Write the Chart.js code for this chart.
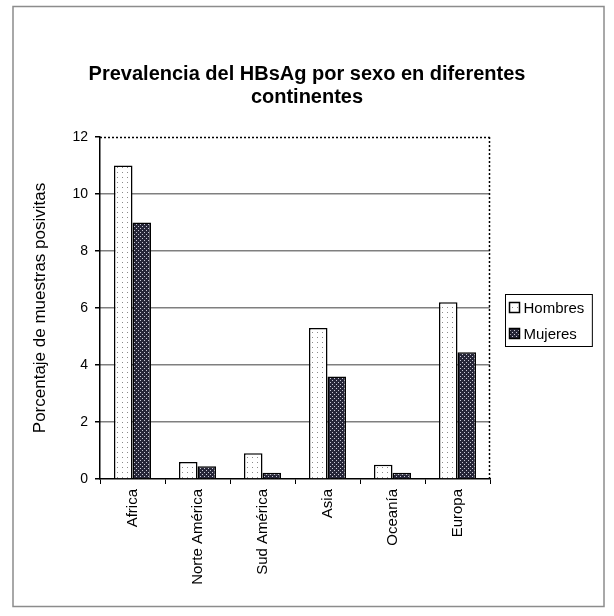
<!DOCTYPE html>
<html>
<head>
<meta charset="utf-8">
<script src="https://cdn.jsdelivr.net/npm/chart.js@4/dist/chart.umd.min.js"></script>
<style>
  html, body { margin: 0; padding: 0; background: #fff; }
  #wrap { width: 614px; height: 616px; position: relative; }
</style>
</head>
<body>
<div id="wrap"><canvas id="c" width="614" height="616"></canvas></div>
<script>
const titleLines = ['Prevalencia del HBsAg por sexo en diferentes', 'continentes'];
const yAxisTitle = 'Porcentaje de muestras posivitas';
const categories = ['Africa', 'Norte América', 'Sud América', 'Asia', 'Oceanía', 'Europa'];
const seriesNames = ['Hombres', 'Mujeres'];
const hombres = [11, 0.6, 0.9, 5.3, 0.5, 6.2];
const mujeres = [9, 0.45, 0.22, 3.6, 0.22, 4.45];
const yTicks = [0, 2, 4, 6, 8, 10, 12];

const FONT = "'Liberation Sans', Arial, sans-serif";

function makePattern(bg, dot, size, dots) {
  const c = document.createElement('canvas');
  c.width = size; c.height = size;
  const x = c.getContext('2d');
  x.fillStyle = bg; x.fillRect(0, 0, size, size);
  x.fillStyle = dot;
  dots.forEach(d => x.fillRect(d[0], d[1], d[2], d[2]));
  return x.createPattern(c, 'repeat');
}
const patHombres = makePattern('#ffffff', '#8a8a8a', 5, [[2, 2, 1]]);
const patMujeres = makePattern('#262638', '#c9c9d6', 4, [[0, 0, 1], [2, 2, 1]]);

const framePlugin = {
  id: 'frame',
  beforeDraw(chart) {
    const ctx = chart.ctx;
    ctx.save();
    ctx.fillStyle = '#fff';
    ctx.fillRect(0, 0, chart.width, chart.height);
    ctx.strokeStyle = '#8c8c8c';
    ctx.lineWidth = 1.5;
    ctx.strokeRect(13, 6.5, chart.width - 23, chart.height - 16);
    ctx.restore();
  },
  afterDatasetsDraw(chart) {
    const a = chart.chartArea, ctx = chart.ctx;
    ctx.save();
    ctx.strokeStyle = '#000';
    ctx.lineWidth = 1.5;
    ctx.setLineDash([2, 2]);
    ctx.beginPath();
    ctx.moveTo(a.left, a.top + 0.5); ctx.lineTo(a.right, a.top + 0.5);
    ctx.moveTo(a.right - 0.5, a.top); ctx.lineTo(a.right - 0.5, a.bottom);
    ctx.stroke();
    ctx.restore();
  }
};

const legendPlugin = {
  id: 'boxLegend',
  afterDraw(chart) {
    const a = chart.chartArea, ctx = chart.ctx;
    ctx.save();
    ctx.font = '15px ' + FONT;
    const sw = 10, gap = 4, padX = 4, rowH = 26;
    const textW = Math.max(...chart.data.datasets.map(d => ctx.measureText(d.label).width));
    const w = padX + sw + gap + textW + padX + 4;
    const h = rowH * chart.data.datasets.length;
    const left = Math.round(a.right + 15) + 0.5;
    const top = Math.round((a.top + a.bottom) / 2 + 12 - h / 2) + 0.5;
    ctx.strokeStyle = '#000';
    ctx.lineWidth = 1;
    ctx.strokeRect(left, top, w, h);
    chart.data.datasets.forEach((d, i) => {
      const cy = top + rowH * i + rowH / 2;
      ctx.fillStyle = d.backgroundColor;
      ctx.fillRect(left + padX, cy - sw / 2, sw, sw);
      ctx.lineWidth = 1.5;
      ctx.strokeRect(left + padX, cy - sw / 2, sw, sw);
      ctx.fillStyle = '#000';
      ctx.textBaseline = 'middle';
      ctx.textAlign = 'left';
      ctx.fillText(d.label, left + padX + sw + gap, cy + 1);
    });
    ctx.restore();
  }
};

new Chart(document.getElementById('c'), {
  type: 'bar',
  data: {
    labels: categories,
    datasets: [
      { label: seriesNames[0], data: hombres, backgroundColor: patHombres, borderColor: '#000', borderWidth: 1.5 },
      { label: seriesNames[1], data: mujeres, backgroundColor: patMujeres, borderColor: '#000', borderWidth: 1.5 }
    ]
  },
  options: {
    responsive: false,
    animation: false,
    devicePixelRatio: 1,
    layout: { padding: { left: 0, right: 0, top: 0, bottom: 0 } },
    datasets: { bar: { categoryPercentage: 0.57, barPercentage: 1.0 } },
    plugins: {
      legend: { display: false },
      tooltip: { enabled: false },
      title: {
        display: true,
        text: titleLines,
        color: '#000',
        font: { family: FONT, size: 20, weight: 'bold', lineHeight: 1.15 },
        padding: { top: 63, bottom: 28 }
      }
    },
    scales: {
      x: {
        afterFit(s) { s.height = 137; },
        grid: { drawOnChartArea: false, drawTicks: true, tickLength: 5, tickColor: '#000', tickWidth: 1, offset: true },
        border: { display: true, color: '#000', width: 1.5, dash: [2, 2] },
        ticks: {
          color: '#000',
          font: { family: FONT, size: 15 },
          maxRotation: 90, minRotation: 90,
          padding: 5,
          autoSkip: false
        }
      },
      y: {
        min: 0, max: 12,
        afterFit(s) { s.width = 100; },
        afterBuildTicks(s) { s.ticks = yTicks.map(v => ({ value: v })); },
        grid: {
          color: c => (c.tick && (c.tick.value === 0 || c.tick.value === 12)) ? 'rgba(0,0,0,0)' : '#000',
          lineWidth: 1.5,
          tickColor: '#000',
          tickLength: 5,
          drawTicks: true
        },
        border: { display: true, color: '#000', width: 1.5, dash: [1, 1] },
        ticks: {
          color: '#000',
          font: { family: FONT, size: 14 },
          padding: 7
        },
        title: {
          display: true,
          text: yAxisTitle,
          color: '#000',
          font: { family: FONT, size: 17 },
          padding: { top: 30, bottom: 0 }
        }
      },
      spacer: {
        position: 'right',
        display: true,
        afterFit(s) { s.width = 124; },
        grid: { display: false },
        border: { display: false },
        ticks: { display: false }
      }
    }
  },
  plugins: [framePlugin, legendPlugin]
});
</script>
</body>
</html>
